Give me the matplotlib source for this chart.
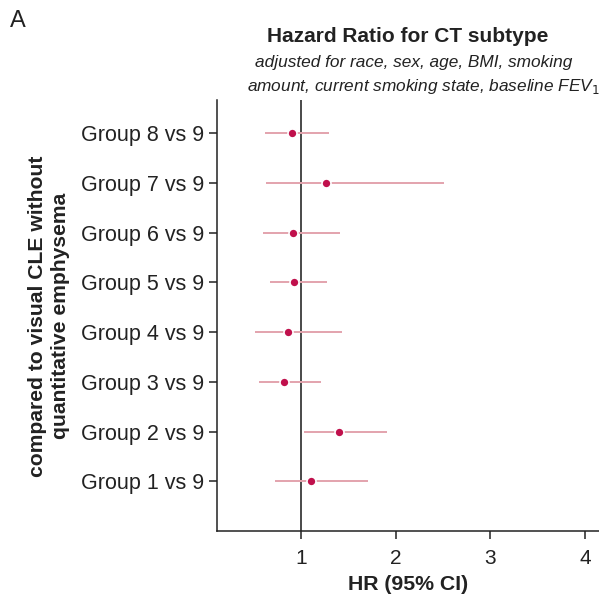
import matplotlib
matplotlib.use("Agg")
import matplotlib.pyplot as plt

plt.rcParams['font.family'] = ['Liberation Sans', 'DejaVu Sans']

groups = ["Group 1 vs 9", "Group 2 vs 9", "Group 3 vs 9", "Group 4 vs 9",
          "Group 5 vs 9", "Group 6 vs 9", "Group 7 vs 9", "Group 8 vs 9"]
hr = [1.11, 1.40, 0.82, 0.86, 0.93, 0.92, 1.26, 0.905]
ci_low = [0.73, 1.03, 0.556, 0.513, 0.67, 0.605, 0.637, 0.626]
ci_high = [1.71, 1.91, 1.21, 1.43, 1.28, 1.41, 2.51, 1.30]
xticks = [1, 2, 3, 4]

fig = plt.figure(figsize=(5.99, 5.97), dpi=100)
ax = fig.add_axes([217/599, 1-531/597, (599-217)/599, (531-100)/597])

ypos = list(range(1, len(groups)+1))
ax.axvline(1, color='#3a3a3a', lw=1.3, zorder=1)
ax.hlines(ypos, ci_low, ci_high, color='#e3a3ad', lw=1.4, zorder=2)
ax.scatter(hr, ypos, s=42, color='#c0104c', edgecolors='white', linewidths=1.2, zorder=3)

ax.set_xlim(0.115, 4.145)
ax.set_ylim(0.0, 8.67)
ax.set_yticks(ypos)
ax.set_yticklabels(groups, fontsize=15.5, color='#222222')
ax.set_xticks(xticks)
ax.set_xticklabels([str(t) for t in xticks], fontsize=15, color='#222222')
ax.tick_params(axis='both', direction='out', length=6, width=1.1, color='#222222')
ax.tick_params(axis='y', pad=3)
ax.tick_params(axis='x', pad=7)
for s in ['top', 'right']:
    ax.spines[s].set_visible(False)
for s in ['left', 'bottom']:
    ax.spines[s].set_linewidth(1.1)
    ax.spines[s].set_color('#222222')

ax.set_xlabel("HR (95% CI)", fontsize=15.3, fontweight='bold', color='#222222', labelpad=5)

fig.text(49/599, 1-316/597, "compared to visual CLE without\nquantitative emphysema",
         rotation=90, ha='center', va='center', fontsize=15.2, fontweight='bold',
         color='#222222', linespacing=1.3)

fig.text(408/599, 1-36/597, "Hazard Ratio for CT subtype", ha='center', va='center',
         fontsize=15, fontweight='bold', color='#222222')
fig.text(414/599, 1-63/597, "adjusted for race, sex, age, BMI, smoking", ha='center', va='center',
         fontsize=12.4, style='italic', color='#222222')
fig.text(423/599, 1-87/597, r"amount, current smoking state, baseline FEV$_{\mathit{1}}$", ha='center', va='center',
         fontsize=12.4, style='italic', color='#222222')
fig.text(10/599, 1-21/597, "A", ha='left', va='center', fontsize=17, color='#222222')

fig.savefig("out.png", dpi=100)
